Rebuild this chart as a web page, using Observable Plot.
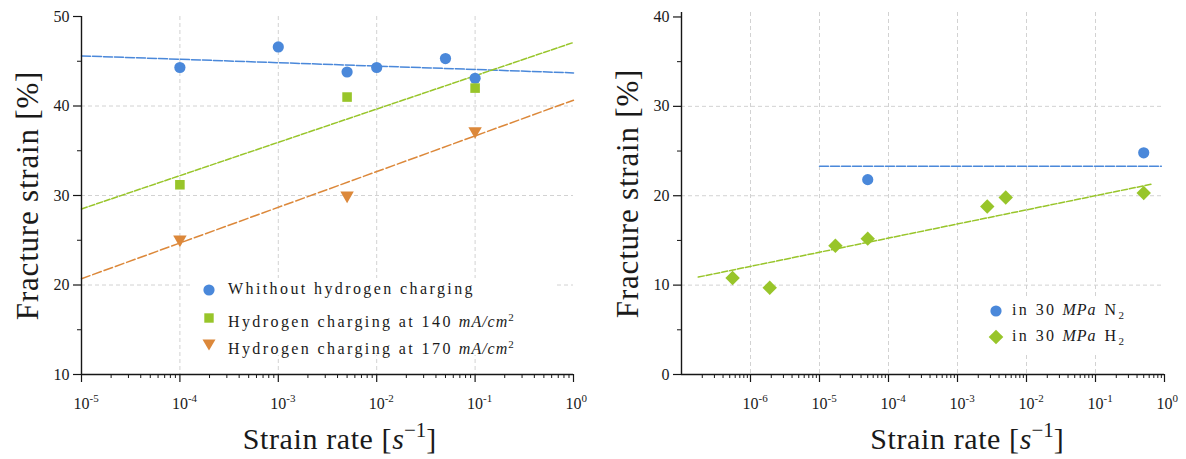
<!DOCTYPE html>
<html><head><meta charset="utf-8">
<script src="https://cdn.jsdelivr.net/npm/d3@7"></script>
<script src="https://cdn.jsdelivr.net/npm/@observablehq/plot@0.6"></script>
<style>
html,body{margin:0;padding:0;background:#fff;}
#wrap{position:relative;width:1186px;height:459px;display:flex;font-family:"Liberation Serif",serif;}
#wrap > div.panel{width:593px;height:459px;}
#wrap svg text{font-family:"Liberation Serif",serif;}
.legend{position:absolute;background:#fff;font-family:"Liberation Serif",serif;font-size:16px;color:#1a1a1a;}
.item{position:absolute;height:20px;line-height:20px;white-space:nowrap;}
.mk{position:absolute;width:16px;height:16px;}
.lbl{letter-spacing:2.4px;}
.math{letter-spacing:1px;font-style:italic;margin-left:2px;}
sup,sub{font-size:11px;letter-spacing:0;}
</style></head><body>
<div id="wrap"><div id="left" class="panel"></div><div id="right" class="panel"></div>
<div id="legL" class="legend"></div><div id="legR" class="legend"></div></div>
<script>
// ---------- data (left panel) ----------
const leftNoH_x = [1e-4, 1e-3, 5e-3, 1e-2, 5e-2, 1e-1];
const leftNoH_y = [44.3, 46.6, 43.8, 44.3, 45.3, 43.1];
const left140_x = [1e-4, 5e-3, 1e-1];
const left140_y = [31.2, 41.0, 42.0];
const left170_x = [1e-4, 5e-3, 1e-1];
const left170_y = [25.1, 30.0, 37.2];
const leftFit_x = [1e-5, 1e0];
const leftFitNoH_y = [45.6, 43.7];
const leftFit140_y = [28.5, 47.1];
const leftFit170_y = [20.7, 40.65];
// ---------- data (right panel) ----------
const rightN2_x = [5e-5, 0.5];
const rightN2_y = [21.8, 24.8];
const rightH2_x = [5.5e-7, 1.9e-6, 1.7e-5, 5e-5, 2.7e-3, 5e-3, 0.5];
const rightH2_y = [10.8, 9.7, 14.4, 15.2, 18.8, 19.8, 20.3];
const rightFitN2_x = [1e-5, 0.9];
const rightFitN2_y = [23.3, 23.3];
const rightFitH2_x = [1.75e-7, 0.66];
const rightFitH2_y = [10.9, 21.3];
// ---------- axes / ticks ----------
const leftXDomain = [1e-5, 1];
const leftYDomain = [10, 50];
const leftXMajor = [1e-5, 1e-4, 1e-3, 1e-2, 1e-1, 1e0];
const leftXLabels = ["-5", "-4", "-3", "-2", "-1", "0"];
const leftXGrid = [1e-4, 1e-3, 1e-2, 1e-1];
const leftYMajor = [10, 20, 30, 40, 50];
const leftYMinor = [15, 25, 35, 45];
const leftYGrid = [20, 30, 40];
const rightXDomain = [1e-7, 1];
const rightYDomain = [0, 40.5];
const rightXMajor = [1e-6, 1e-5, 1e-4, 1e-3, 1e-2, 1e-1, 1e0];
const rightXLabels = ["-6", "-5", "-4", "-3", "-2", "-1", "0"];
const rightXGrid = [1e-6, 1e-5, 1e-4, 1e-3, 1e-2, 1e-1];
const rightYMajor = [0, 10, 20, 30, 40];
const rightYMinor = [5, 15, 25, 35];
const rightYGrid = [10, 20, 30];
const yTitle = "Fracture strain [%]";
const xTitleParts = ["Strain rate [", "s", "\u22121", "]"];
const legendLeft = [
  {sym: "circle", color: "blue", text: "Whithout hydrogen charging", math: "", sup: ""},
  {sym: "square", color: "green", text: "Hydrogen charging at 140", math: "mA/cm", sup: "2"},
  {sym: "tri", color: "orange", text: "Hydrogen charging at 170", math: "mA/cm", sup: "2"}
];
const legendRight = [
  {sym: "circle", color: "blue", text: "in 30", math: "MPa", gas: "N", sub: "2"},
  {sym: "diamond", color: "green", text: "in 30", math: "MPa", gas: "H", sub: "2"}
];

const C = {blue: "#4a88da", green: "#98c52a", orange: "#dc883a"};
const GRID = "#d2d2d2", AX = "#161616";
const SERIF = "Liberation Serif";

const triDown = {draw(ctx, size) {
  const y = Math.sqrt(size / (Math.sqrt(3) * 3));
  ctx.moveTo(0, 2 * y); ctx.lineTo(Math.sqrt(3) * y, -y); ctx.lineTo(-Math.sqrt(3) * y, -y); ctx.closePath();
}};

function minorTicks(domain) {
  const out = [];
  for (let e = Math.floor(Math.log10(domain[0])); e < Math.log10(domain[1]); e++)
    for (let k = 2; k <= 9; k++) { const v = k * Math.pow(10, e); if (v > domain[0] && v < domain[1]) out.push(v); }
  return out;
}

function panel(o) {
  const labMap = new Map(o.xMajor.map((d, i) => [d, "10" + o.xLabels[i]]));
  return Plot.plot({
    width: 593, height: 459,
    marginLeft: o.ml, marginRight: o.mr, marginTop: o.mt, marginBottom: 85,
    style: {fontFamily: SERIF + ", serif", fontSize: "16px", color: "#1a1a1a", background: "transparent", overflow: "visible"},
    x: {type: "log", domain: o.xDomain},
    y: {domain: o.yDomain},
    marks: [
      Plot.ruleX(o.xGrid, {stroke: GRID, strokeDasharray: "4,3", strokeWidth: 1}),
      Plot.ruleY(o.yGrid, {stroke: GRID, strokeDasharray: "4,3", strokeWidth: 1}),
      ...o.marks,
      Plot.ruleX([o.xDomain[0]], {stroke: AX, strokeWidth: 1.4}),
      Plot.ruleY([o.yDomain[0]], {stroke: AX, strokeWidth: 1.4}),
      Plot.axisX({ticks: o.xMajor, tickSize: 8, tickPadding: 15, tickFormat: d => labMap.get(d), label: null, stroke: AX, strokeWidth: 1.2, fontFamily: SERIF, fontSize: 16}),
      Plot.axisX({ticks: minorTicks(o.xDomain), tickSize: 4, tickFormat: () => "", label: null, stroke: AX, strokeWidth: 1}),
      Plot.axisY({ticks: o.yMajor, tickSize: 8, tickPadding: 4, tickFormat: d => String(d), label: null, stroke: AX, strokeWidth: 1.2, fontFamily: SERIF, fontSize: 16}),
      Plot.axisY({ticks: o.yMinor, tickSize: 4, tickFormat: () => "", label: null, stroke: AX, strokeWidth: 1}),
      Plot.text([yTitle], {text: d => d, frameAnchor: "left", textAnchor: "middle", rotate: -90, dx: -44, lineAnchor: "bottom", fontSize: 31, fill: "#1a1a1a"}),
      Plot.text([xTitleParts.join("")], {text: d => d, frameAnchor: "bottom", textAnchor: "middle", dy: 74, dx: o.titleDx, lineAnchor: "bottom", fontSize: 30, fill: "#1a1a1a"})
    ]
  });
}

function postProcess(svg) {
  const s = d3.select(svg);
  s.selectAll('g[aria-label="x-axis tick label"] text').each(function () {
    const t = this.textContent;
    if (!t) return;
    const el = d3.select(this);
    el.text(null).attr("text-anchor", "start");
    el.append("tspan").attr("dx", -8).text(t.slice(0, 2));
    el.append("tspan").attr("dy", -7).attr("font-size", 11).text(t.slice(2));
  });
  s.selectAll("text").filter(function () { return this.textContent === yTitle; }).attr("letter-spacing", 0.8);
  const full = xTitleParts.join("");
  s.selectAll("text").filter(function () { return this.textContent === full; }).each(function () {
    const xt = d3.select(this);
    xt.text(null);
    xt.append("tspan").attr("letter-spacing", 0.6).text(xTitleParts[0]);
    xt.append("tspan").attr("font-style", "italic").text(xTitleParts[1]);
    xt.append("tspan").attr("dy", -12).attr("font-size", 21).text(xTitleParts[2]);
    xt.append("tspan").attr("dy", 12).text(xTitleParts[3]);
  });
  return svg;
}

const left = panel({
  ml: 81, mr: 20, mt: 16, titleDx: 12,
  xDomain: leftXDomain, yDomain: leftYDomain, xMajor: leftXMajor, xLabels: leftXLabels,
  xGrid: leftXGrid, yMajor: leftYMajor, yMinor: leftYMinor, yGrid: leftYGrid,
  marks: [
    Plot.line(leftFit_x, {x: leftFit_x, y: leftFitNoH_y, stroke: C.blue, strokeWidth: 1.5, strokeDasharray: "9,2"}),
    Plot.line(leftFit_x, {x: leftFit_x, y: leftFit140_y, stroke: C.green, strokeWidth: 1.5, strokeDasharray: "6,2"}),
    Plot.line(leftFit_x, {x: leftFit_x, y: leftFit170_y, stroke: C.orange, strokeWidth: 1.5, strokeDasharray: "9,3"}),
    Plot.dot(leftNoH_x, {x: leftNoH_x, y: leftNoH_y, r: 5.6, fill: C.blue, symbol: "circle"}),
    Plot.dot(left140_x, {x: left140_x, y: left140_y, r: 5.4, fill: C.green, symbol: "square"}),
    Plot.dot(left170_x, {x: left170_x, y: left170_y, r: 5.0, fill: C.orange, symbol: triDown})
  ]
});
const right = panel({
  ml: 88, mr: 22, mt: 12, titleDx: 44,
  xDomain: rightXDomain, yDomain: rightYDomain, xMajor: rightXMajor, xLabels: rightXLabels,
  xGrid: rightXGrid, yMajor: rightYMajor, yMinor: rightYMinor, yGrid: rightYGrid,
  marks: [
    Plot.line(rightFitN2_x, {x: rightFitN2_x, y: rightFitN2_y, stroke: C.blue, strokeWidth: 1.5, strokeDasharray: "9,2"}),
    Plot.line(rightFitH2_x, {x: rightFitH2_x, y: rightFitH2_y, stroke: C.green, strokeWidth: 1.5, strokeDasharray: "6,2"}),
    Plot.dot(rightN2_x, {x: rightN2_x, y: rightN2_y, r: 5.6, fill: C.blue, symbol: "circle"}),
    Plot.dot(rightH2_x, {x: rightH2_x, y: rightH2_y, r: 6.5, fill: C.green, symbol: "diamond2"})
  ]
});
document.getElementById("left").appendChild(postProcess(left));
document.getElementById("right").appendChild(postProcess(right));

// ---------- legends ----------
function markerSVG(sym, color) {
  const c = C[color];
  let shape;
  if (sym === "circle") shape = `<circle cx="8" cy="8" r="5.6" fill="${c}"/>`;
  else if (sym === "square") shape = `<rect x="3.3" y="3.3" width="9.4" height="9.4" fill="${c}"/>`;
  else if (sym === "tri") shape = `<polygon points="1.5,2.5 14.5,2.5 8,13.5" fill="${c}"/>`;
  else shape = `<polygon points="8,0.7 15.3,8 8,15.3 0.7,8" fill="${c}"/>`;
  return `<svg class="mk" viewBox="0 0 16 16">${shape}</svg>`;
}
function buildLegend(id, box, items, rowY, mkX, txtX, fmt) {
  const el = document.getElementById(id);
  Object.assign(el.style, {left: box[0] + "px", top: box[1] + "px", width: box[2] + "px", height: box[3] + "px"});
  items.forEach((it, i) => {
    const m = document.createElement("div");
    m.innerHTML = markerSVG(it.sym, it.color);
    const svg = m.firstChild;
    svg.style.left = (mkX - 8) + "px"; svg.style.top = (rowY[i] - 8) + "px";
    el.appendChild(svg);
    const t = document.createElement("div");
    t.className = "item";
    t.style.left = txtX + "px"; t.style.top = (rowY[i] - 11) + "px";
    t.innerHTML = fmt(it);
    el.appendChild(t);
  });
}
buildLegend("legL", [192, 278, 365, 77], legendLeft, [12, 40, 67], 17, 36,
  it => `<span class="lbl">${it.text}</span>` + (it.math ? ` <span class="math">${it.math}</span><sup>${it.sup}</sup>` : ""));
buildLegend("legR", [980, 296, 172, 57], legendRight, [15, 41], 16, 32,
  it => `<span class="lbl">${it.text}</span> <span class="math">${it.math}</span>&nbsp; <span class="lbl">${it.gas}</span><sub>${it.sub}</sub>`);
</script></body></html>
